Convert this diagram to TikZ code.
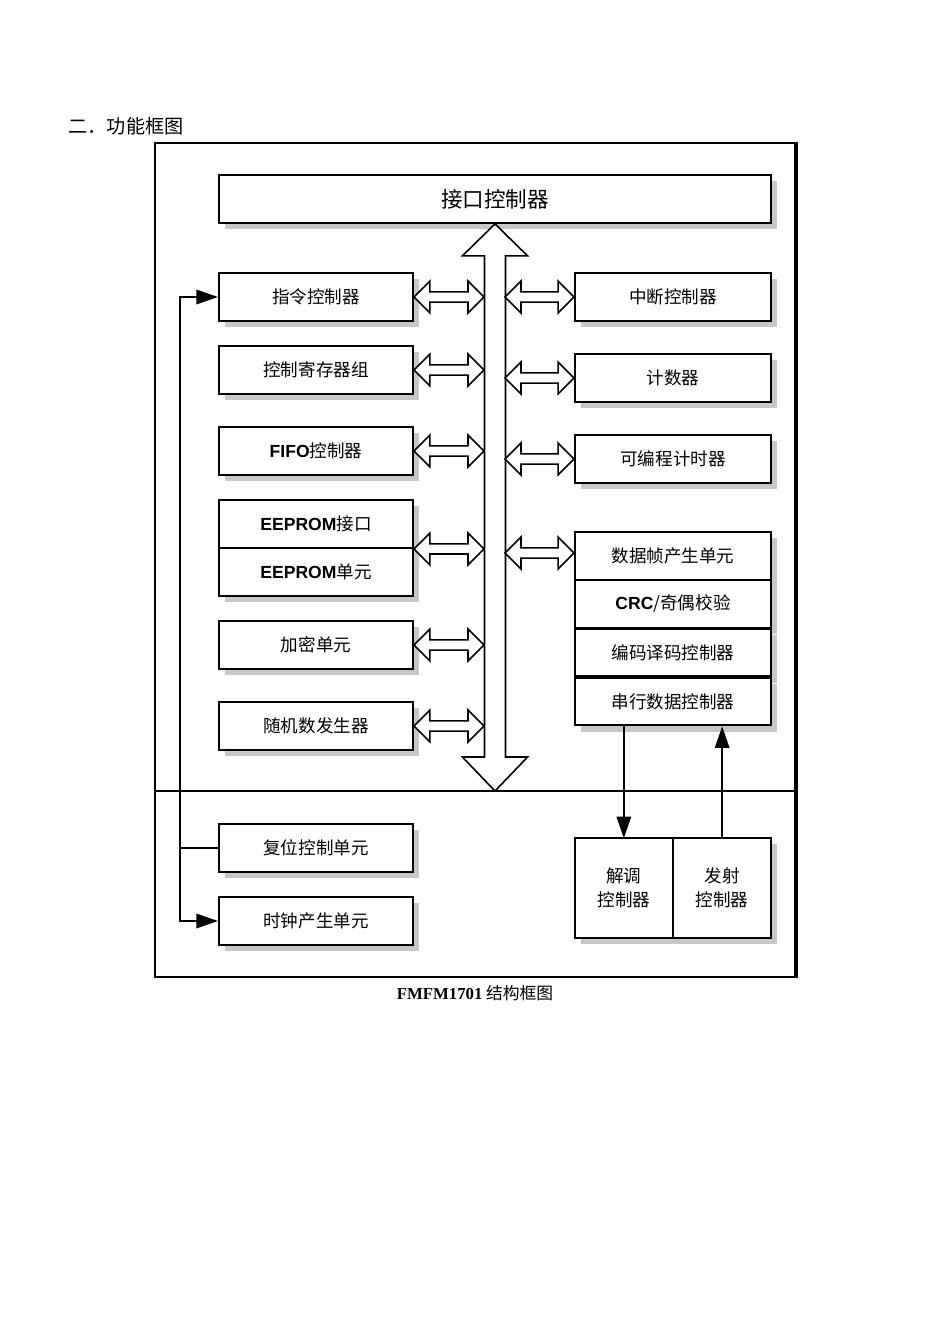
\documentclass[tikz,border=0pt]{standalone}
\usepackage{fontspec}
\setmainfont{Noto Sans CJK SC}
\setsansfont{Liberation Sans}
\newfontfamily\tnr{Liberation Serif}
\usetikzlibrary{arrows.meta,calc,shadows}
\newcommand{\lat}[1]{{\sffamily\bfseries #1}}
\tikzset{
  shd/.style={drop shadow={shadow xshift=3.8pt, shadow yshift=-3.8pt, fill=black!22, opacity=1}},
  bx/.style={draw, line width=1.2pt, fill=white, inner sep=1pt, align=center,
    font=\fontsize{11pt}{15pt}\selectfont, shd},
  lbox/.style={bx, minimum width=121.6pt, minimum height=30pt},
  rbox/.style={bx, minimum width=122.8pt, minimum height=30pt},
  arr/.style={-{Triangle[length=13.5pt, width=9pt]}, line width=1.2pt},
  bus/.style={draw, line width=1pt, fill=white, line join=miter},
  frm/.style={draw, line width=1.2pt},
  txt/.style={align=center, inner sep=0pt, font=\fontsize{11pt}{15pt}\selectfont},
}
\newcommand{\hbus}[2]{\draw[bus] let \p1=(#1), \p2=(#2) in
  (\x1,\y1) -- (\x1+10pt,\y1+10pt) -- (\x1+10pt,\y1+3.2pt) -- (\x2-10pt,\y1+3.2pt) -- (\x2-10pt,\y1+10pt)
  -- (\x2,\y1) -- (\x2-10pt,\y1-10pt) -- (\x2-10pt,\y1-3.2pt) -- (\x1+10pt,\y1-3.2pt) -- (\x1+10pt,\y1-10pt) -- cycle;}
\begin{document}
\begin{tikzpicture}[x=0.6266pt, y=-0.6266pt]
  \useasboundingbox (0,0) rectangle (950,1344);
  \node[anchor=west, font=\fontsize{12pt}{14pt}\selectfont] (title) at (63,126) {二．功能框图};
  \node[frm, minimum width=401pt, minimum height=522.6pt, inner sep=0pt] (frame) at (475,560) {};
  \draw[line width=2pt] (frame.north east) -- (frame.south east);
  \coordinate (div) at (475,791);
  \draw[line width=1pt] (frame.west |- div) -- (frame.east |- div);
  \node[bx, minimum width=345.9pt, minimum height=30pt, font=\fontsize{13.5pt}{16pt}\selectfont] (ifc) at (495,199) {接口控制器};
  \node[lbox] (cmd) at (316,297) {指令控制器};
  \node[lbox] (reg) at (316,370) {控制寄存器组};
  \node[lbox] (fifo) at (316,451) {\lat{FIFO}控制器};
  \node[lbox] (eepi) at (316,524) {\lat{EEPROM}接口};
  \node[lbox] (eepu) at (316,572) {\lat{EEPROM}单元};
  \node[lbox] (enc) at (316,645) {加密单元};
  \node[lbox] (rng) at (316,726) {随机数发生器};
  \node[lbox] (rst) at (316,848) {复位控制单元};
  \node[lbox] (clk) at (316,921) {时钟产生单元};
  \node[rbox] (irq) at (673,297) {中断控制器};
  \node[rbox] (cnt) at (673,378) {计数器};
  \node[rbox] (tmr) at (673,459) {可编程计时器};
  \node[rbox] (frmg) at (673,556) {数据帧产生单元};
  \node[rbox] (crc) at (673,604) {\lat{CRC}/奇偶校验};
  \node[rbox] (cod) at (673,652.5) {编码译码控制器};
  \node[rbox] (ser) at (673,701.5) {串行数据控制器};
  \node[inner sep=0pt, minimum width=122.8pt, minimum height=62pt] (rf) at (673,888) {};
  \fill[black!22] ($(rf.north west)+(6,6)$) rectangle ($(rf.south east)+(6,6)$);
  \draw[line width=1.2pt, fill=white] (rf.north west) rectangle (rf.south east);
  \draw[line width=1.2pt] (rf.north) -- (rf.south);
  \node[txt] (dem) at ($(rf.center)!0.5!(rf.west)$) {解调\\控制器};
  \node[txt] (tx) at ($(rf.center)!0.5!(rf.east)$) {发射\\控制器};
  \node[anchor=base, font=\fontsize{10.5pt}{12pt}\selectfont] (cap) at (475,999) {{\tnr\bfseries FMFM1701} 结构框图};
  \coordinate (bustop) at (ifc.south);
  \coordinate (busbot) at (bustop |- div);
  \coordinate (busL) at (484,0);
  \coordinate (busR) at (505,0);
  \draw[bus] let \p1=(bustop), \p2=(busbot) in
    (\x1,\y1) -- (\x1+20.4pt,\y1-20pt) -- (\x1+6.6pt,\y1-20pt) -- (\x1+6.6pt,\y2+21.3pt) -- (\x1+20.4pt,\y2+21.3pt)
    -- (\x2,\y2) -- (\x1-20.4pt,\y2+21.3pt) -- (\x1-6.6pt,\y2+21.3pt) -- (\x1-6.6pt,\y1-20pt) -- (\x1-20.4pt,\y1-20pt) -- cycle;
  \hbus{cmd.east}{cmd.east -| busL}
  \hbus{reg.east}{reg.east -| busL}
  \hbus{fifo.east}{fifo.east -| busL}
  \hbus{eepi.south east}{eepi.south east -| busL}
  \hbus{enc.east}{enc.east -| busL}
  \hbus{rng.east}{rng.east -| busL}
  \hbus{busR |- irq.west}{irq.west}
  \hbus{busR |- cnt.west}{cnt.west}
  \hbus{busR |- tmr.west}{tmr.west}
  \hbus{$(busR |- frmg.west)+(0,-3)$}{$(frmg.west)+(0,-3)$}
  \coordinate (fb) at (180,848);
  \draw[line width=1.2pt] (rst.west) -- (fb);
  \draw[arr] (fb) |- (cmd.west);
  \draw[arr] (fb) |- (clk.west);
  \draw[arr] (ser.south -| dem) -- (rf.north -| dem);
  \draw[arr] (rf.north -| tx) -- (ser.south -| tx);
\end{tikzpicture}
\end{document}
